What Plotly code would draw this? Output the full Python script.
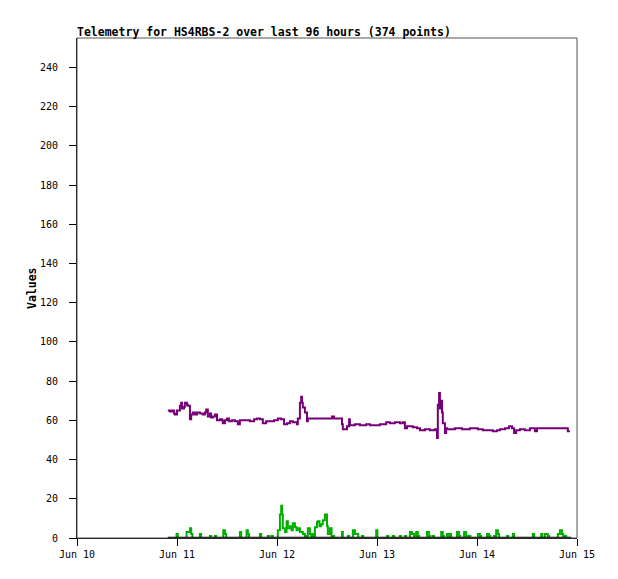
import pandas as pd
import plotly.graph_objects as go

BASE = pd.Timestamp("2024-06-10 00:00")

# hours after Jun 10 00:00, values
purple_h = [21.8, 22.3, 22.8, 23.3, 23.5, 24.0, 24.5, 24.7, 25.0, 25.2, 25.7, 25.9, 26.4, 26.6, 27.1, 27.4, 27.8,
            28.3, 28.8, 29.5, 30.2, 30.7, 31.0, 31.4, 31.9, 32.2, 32.6, 33.1, 33.6, 34.3, 34.8, 35.0, 35.5, 36.0,
            36.5, 37.2, 37.9, 38.6, 39.1, 39.6, 40.6, 41.5, 42.5, 43.2, 43.9, 44.6, 45.4, 46.3, 47.3, 48.2, 49.0,
            49.7, 50.4, 51.1, 51.8, 52.8, 53.0, 53.5, 53.8, 54.0, 54.2, 54.7, 55.2, 55.4, 57.1, 58.8, 60.7, 61.2,
            61.7, 63.1, 63.6, 63.8, 64.6, 64.8, 65.3, 65.5, 66.7, 67.9, 69.4, 70.3, 71.8, 72.7, 74.2, 75.1, 76.3,
            77.5, 78.2, 78.7, 79.2, 80.6, 81.6, 82.3, 83.5, 84.7, 85.9, 86.4, 86.6, 86.9, 87.1, 87.4, 87.6, 87.8,
            88.3, 88.6, 88.8, 90.7, 92.4, 94.3, 96.2, 97.4, 99.1, 99.8, 100.8, 101.5, 102.7, 103.7, 104.4, 104.9,
            105.4, 106.3, 107.5, 108.7, 109.4, 109.9, 110.4, 112.3, 114.7, 117.1, 117.8, 118.3]
purple_v = [65, 64.5, 65, 63.5, 63, 65, 65, 67.5, 69, 66, 67, 69, 68, 67.5, 60.5, 63, 64,
            63, 64, 63.5, 63, 64, 65.5, 62, 63.5, 61.5, 62, 63, 60, 60.5, 60, 58.5, 60, 61,
            59.5, 60, 59.5, 58, 60, 60, 60, 59.5, 60.5, 61, 60.5, 58.5, 59.5, 59.5, 60, 61, 60.5,
            58, 58.5, 59.5, 59, 58, 61, 69, 72, 69, 66.5, 64, 59.5, 61, 61, 61, 61, 62,
            61, 61, 58, 55.5, 55.5, 57, 60.5, 57.5, 58, 57.5, 58, 57.5, 57.5, 58, 59, 58.5, 59,
            58.5, 59, 56, 57, 56.5, 56, 55, 55.5, 55, 55.5, 51, 68, 74, 66, 70, 64, 58.5,
            53.5, 56, 55.5, 56, 55.5, 56, 55.5, 55, 55, 54.5, 55, 55.5, 56, 57, 56, 53.5,
            55, 55.5, 55, 56, 56, 54.5, 56, 56, 56, 56, 54.5, 54.5]

green_h = [21.8, 23.9, 24.2, 26.3, 26.8, 27.1, 27.4, 27.7, 29.5, 29.8, 31.9, 32.2, 33.1, 33.4, 35.1, 35.5, 35.8,
           39.1, 39.4, 40.7, 41.0, 41.3, 43.9, 44.2, 45.8, 46.1, 46.7, 47.0, 48.2, 48.7, 49.0, 49.2, 49.4, 49.9,
           50.3, 50.6, 51.1, 51.5, 51.8, 52.3, 52.7, 53.0, 53.5, 54.2, 54.7, 55.0, 55.4, 55.9, 56.2, 56.4, 56.7,
           57.1, 57.6, 57.8, 58.2, 58.6, 59.0, 59.5, 60.0, 60.2, 60.7, 61.1, 61.4, 61.7, 63.6, 63.8, 65.0, 65.3,
           66.2, 66.7, 67.2, 67.5, 68.4, 68.7, 71.8, 72.1, 74.4, 74.7, 75.8, 76.1, 77.5, 77.8, 78.7, 79.0, 79.9,
           80.4, 80.6, 80.9, 81.4, 81.8, 82.1, 84.0, 84.5, 84.8, 85.4, 85.7, 87.4, 87.8, 88.1, 88.8, 89.3, 89.5,
           89.8, 91.2, 91.7, 92.0, 92.9, 93.4, 93.7, 94.1, 94.4, 96.2, 96.7, 97.0, 98.4, 98.9, 99.2, 100.1, 100.6,
           101.0, 101.3, 103.2, 103.5, 104.6, 104.9, 109.4, 109.7, 111.4, 111.7, 112.3, 113.0, 113.3, 115.4, 115.9,
           116.4, 116.7, 117.1, 117.4, 118.6]
green_v = [0, 2, 0, 3, 3, 5, 2, 0, 2, 0, 1, 0, 1, 0, 4, 2, 0,
           3, 0, 4, 2, 0, 2, 0, 1, 0, 1, 0, 4, 12, 16.5, 12, 5, 3,
           8.5, 5, 6, 4, 7.5, 5.5, 4, 5, 3, 2, 1, 0, 5, 2, 0, 2, 0,
           5.5, 8, 8.5, 6, 7, 9, 12, 6, 2, 5, 0, 1, 0, 3, 0, 1, 0,
           4, 2, 2, 0, 1, 0, 4, 0, 1, 0, 1, 0, 1, 0, 1, 0, 3,
           2, 2, 0, 3, 1, 0, 3, 1, 0, 1, 0, 3, 1, 0, 2, 1, 2,
           0, 3, 1, 0, 3, 1, 0, 1, 0, 2, 1, 0, 2, 1, 0, 1, 4,
           2, 0, 1, 0, 2, 0, 2, 0, 2, 0, 2, 1, 0, 2, 4,
           2, 0, 1, 0, 0]

black_h = [21.8, 118.6]
black_v = [0, 0]

x_tick_days = ["2024-06-10", "2024-06-11", "2024-06-12", "2024-06-13", "2024-06-14", "2024-06-15"]
x_tick_labels = ["Jun 10", "Jun 11", "Jun 12", "Jun 13", "Jun 14", "Jun 15"]
y_ticks = [0, 20, 40, 60, 80, 100, 120, 140, 160, 180, 200, 220, 240]


def to_time(hours):
    return [BASE + pd.Timedelta(hours=h) for h in hours]


MONO = "DejaVu Sans Mono"

fig = go.Figure()
fig.add_trace(go.Scatter(x=to_time(purple_h), y=purple_v, mode="lines", line=dict(color="#760079", width=2, shape="hv"),
                         showlegend=False))
fig.add_trace(go.Scatter(x=to_time(green_h), y=green_v, mode="lines", line=dict(color="#00b000", width=2, shape="hv"),
                         showlegend=False))
fig.add_trace(go.Scatter(x=to_time(black_h), y=black_v, mode="lines", line=dict(color="#000000", width=2.5),
                         showlegend=False))

# page body has an 8px margin, so the figure is drawn 8px smaller and offset
fig.update_layout(
    width=610, height=571,
    margin=dict(l=69, r=41, t=30, b=41),
    paper_bgcolor="white", plot_bgcolor="white",
    font=dict(family=MONO, size=10, color="black"),
    title=dict(text="<b>Telemetry for HS4RBS-2 over last 96 hours (374 points)</b>",
               font=dict(family=MONO, size=11.5, color="black"),
               x=0, xref="paper", xanchor="left", y=1 - 23.5 / 571, yref="container", yanchor="middle"),
    shapes=[dict(type="rect", xref="paper", yref="paper", x0=0, x1=1, y0=0, y1=1,
                 line=dict(color="#555555", width=1), layer="above")],
    annotations=[dict(text="<b>Values</b>", textangle=-90, xref="paper", yref="paper",
                      x=(32 - 77) / 500, y=0.5, xanchor="center", yanchor="middle", showarrow=False,
                      font=dict(family=MONO, size=11.5, color="black"))],
)
fig.update_xaxes(
    range=["2024-06-10 00:00", "2024-06-15 00:00"],
    tickvals=x_tick_days, ticktext=x_tick_labels,
    showgrid=False, zeroline=False,
    showline=True, linecolor="black", linewidth=1,
    ticks="outside", ticklen=7, tickcolor="black", tickwidth=1,
    tickfont=dict(family=MONO, size=10, color="black"),
)
fig.update_yaxes(
    range=[0, 255],
    tickvals=y_ticks,
    showgrid=False, zeroline=False,
    showline=True, linecolor="black", linewidth=1,
    ticks="outside", ticklen=7, tickcolor="black", tickwidth=1,
    ticklabelstandoff=9,
    tickfont=dict(family=MONO, size=10, color="black"),
)

fig.write_html("out.html")
